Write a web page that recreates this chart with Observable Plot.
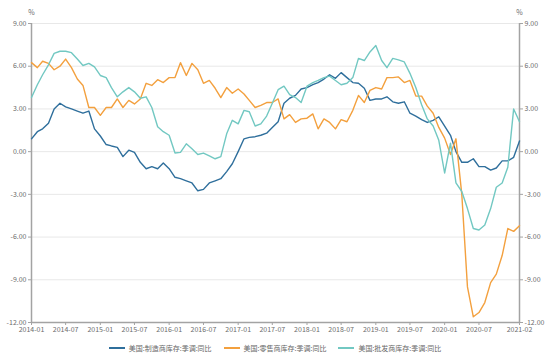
<!DOCTYPE html>
<html>
<head>
<meta charset="utf-8">
<script src="https://cdn.jsdelivr.net/npm/d3@7"></script>
<script src="https://cdn.jsdelivr.net/npm/@observablehq/plot@0.6"></script>
<style>
  html, body { margin: 0; padding: 0; background: #fff; }
  #legend { height: 20px; display: flex; justify-content: center; align-items: center; gap: 12px;
    font-family: "Noto Sans CJK SC", sans-serif; font-size: 7px; color: #666; }
  .item { display: flex; align-items: center; gap: 4px; }
  .sw { width: 16px; height: 2px; display: inline-block; }
</style>
</head>
<body>
<div id="chart"></div>
<div id="legend"></div>
<script>
const seriesNames = ["美国:制造商库存:季调:同比", "美国:零售商库存:季调:同比", "美国:批发商库存:季调:同比"];
const seriesColors = ["#2f6f9c", "#f3a03e", "#72c8c2"];

const manufacturing = [0.9, 1.4, 1.6, 2.0, 3.0, 3.4, 3.15, 3.0, 2.85, 2.7, 2.85, 1.6, 1.1, 0.5, 0.4, 0.3, -0.35, 0.1, -0.05, -0.75,
  -1.2, -1.05, -1.2, -0.8, -1.2, -1.8, -1.9, -2.05, -2.2, -2.75, -2.65, -2.2, -2.05, -1.9, -1.4, -0.85, 0.0, 0.9, 1.0, 1.05,
  1.15, 1.3, 1.7, 2.1, 3.4, 3.75, 3.95, 4.4, 4.5, 4.7, 4.85, 5.1, 5.4, 5.15, 5.55, 5.2, 4.85, 4.8, 4.45, 3.6,
  3.7, 3.7, 3.85, 3.5, 3.4, 3.5, 2.7, 2.5, 2.25, 2.05, 2.2, 2.45, 1.8, 1.15, 0.0, -0.75, -0.75, -0.5, -1.05, -1.05,
  -1.3, -1.15, -0.65, -0.65, -0.4, 0.75];
const retail = [6.25, 5.9, 6.35, 6.2, 5.75, 6.0, 6.5, 5.9, 5.1, 4.65, 3.1, 3.1, 2.55, 3.1, 3.1, 3.7, 3.1, 3.6, 3.35, 3.7,
  4.8, 4.65, 5.05, 4.85, 5.2, 5.2, 6.25, 5.35, 6.2, 5.75, 4.8, 5.0, 4.45, 3.8, 4.5, 4.1, 4.4, 4.05, 3.6, 3.1,
  3.25, 3.45, 3.45, 3.7, 2.3, 2.6, 2.05, 2.3, 2.35, 2.65, 1.6, 2.3, 2.05, 1.6, 2.25, 2.1, 2.9, 3.95, 3.45, 4.3,
  4.5, 4.4, 5.2, 5.2, 5.25, 4.85, 5.0, 3.9, 3.9, 3.2, 2.7, 1.7, 0.95, -0.2, 0.9, -3.0, -9.5, -11.6, -11.3, -10.6,
  -9.2, -8.6, -7.3, -5.4, -5.6, -5.2];
const wholesale = [3.8, 4.7, 5.4, 6.1, 6.9, 7.05, 7.05, 6.95, 6.5, 6.05, 6.2, 5.95, 5.35, 5.2, 4.5, 3.85, 4.2, 4.5, 4.2, 3.75,
  3.85, 3.1, 1.75, 1.4, 1.15, -0.1, -0.05, 0.55, 0.2, -0.2, -0.1, -0.3, -0.5, -0.35, 1.25, 2.2, 1.95, 2.9, 2.8, 1.8,
  1.95, 2.5, 3.4, 4.35, 4.6, 4.0, 3.8, 3.45, 4.6, 4.85, 5.0, 5.2, 5.3, 5.0, 4.7, 4.8, 5.2, 6.55, 6.4, 7.0,
  7.45, 6.4, 5.9, 6.55, 6.45, 6.3, 5.5, 4.5, 3.3, 2.3, 1.8, 0.8, -1.5, 0.6, -2.2, -2.8, -4.0, -5.4, -5.5, -5.15,
  -4.0, -2.5, -2.2, -1.1, 3.0, 2.1];

const xTickLabels = ["2014-01","2014-07","2015-01","2015-07","2016-01","2016-07","2017-01","2017-07","2018-01","2018-07","2019-01","2019-07","2020-01","2020-07","2021-02"];
const yTicks = [-12, -9, -6, -3, 0, 3, 6, 9];

const parse = d3.utcParse("%Y-%m");
const start = parse("2014-01"), end = parse("2021-02");
const months = d3.utcMonth.range(start, d3.utcMonth.offset(end, 1));
const xTicks = xTickLabels.map(parse);
const allSeries = [manufacturing, retail, wholesale];
const data = [];
allSeries.forEach((vals, s) => vals.forEach((v, i) => data.push({date: months[i], value: v, series: seriesNames[s]})));

const fmtY = d => d.toFixed(2);
const axisColor = "#a3a3a3";
const textColor = "#6b6b6b";

const chart = Plot.plot({
  width: 550,
  height: 338,
  marginLeft: 31,
  marginRight: 31,
  marginTop: 23,
  marginBottom: 16,
  style: {fontFamily: "'Noto Sans CJK SC', 'Noto Sans', sans-serif", fontSize: "7px", background: "#fff", overflow: "visible"},
  x: {type: "utc", domain: [start, end]},
  y: {domain: [-12, 9]},
  color: {domain: seriesNames, range: seriesColors},
  marks: [
    Plot.gridY(yTicks, {stroke: "#e8e8e8", strokeOpacity: 1, strokeWidth: 1}),
    Plot.ruleX([start], {stroke: axisColor, strokeWidth: 1.5}),
    Plot.ruleX([end], {stroke: axisColor, strokeWidth: 1.5}),
    Plot.ruleY([-12], {stroke: axisColor, strokeWidth: 1.5}),
    Plot.axisY(yTicks, {anchor: "left", tickFormat: fmtY, tickSize: 3, tickPadding: 2, label: null, stroke: axisColor, fill: textColor}),
    Plot.axisY(yTicks, {anchor: "right", tickFormat: fmtY, tickSize: 3, tickPadding: 2, label: null, stroke: axisColor, fill: textColor}),
    Plot.axisX(xTicks, {anchor: "bottom", tickFormat: d3.utcFormat("%Y-%m"), tickSize: 3, tickPadding: 2, label: null, stroke: axisColor, fill: textColor}),
    Plot.lineY(data, {x: "date", y: "value", z: "series", stroke: "series", strokeWidth: 1.4}),
    Plot.text(["%"], {frameAnchor: "top-left", textAnchor: "middle", dy: -13, fill: textColor}),
    Plot.text(["%"], {frameAnchor: "top-right", textAnchor: "middle", dy: -13, fill: textColor})
  ]
});
document.getElementById("chart").appendChild(chart);

const legend = document.getElementById("legend");
seriesNames.forEach((name, i) => {
  const item = document.createElement("div");
  item.className = "item";
  const sw = document.createElement("span");
  sw.className = "sw";
  sw.style.background = seriesColors[i];
  const label = document.createElement("span");
  label.textContent = name;
  item.appendChild(sw);
  item.appendChild(label);
  legend.appendChild(item);
});
</script>
</body>
</html>
